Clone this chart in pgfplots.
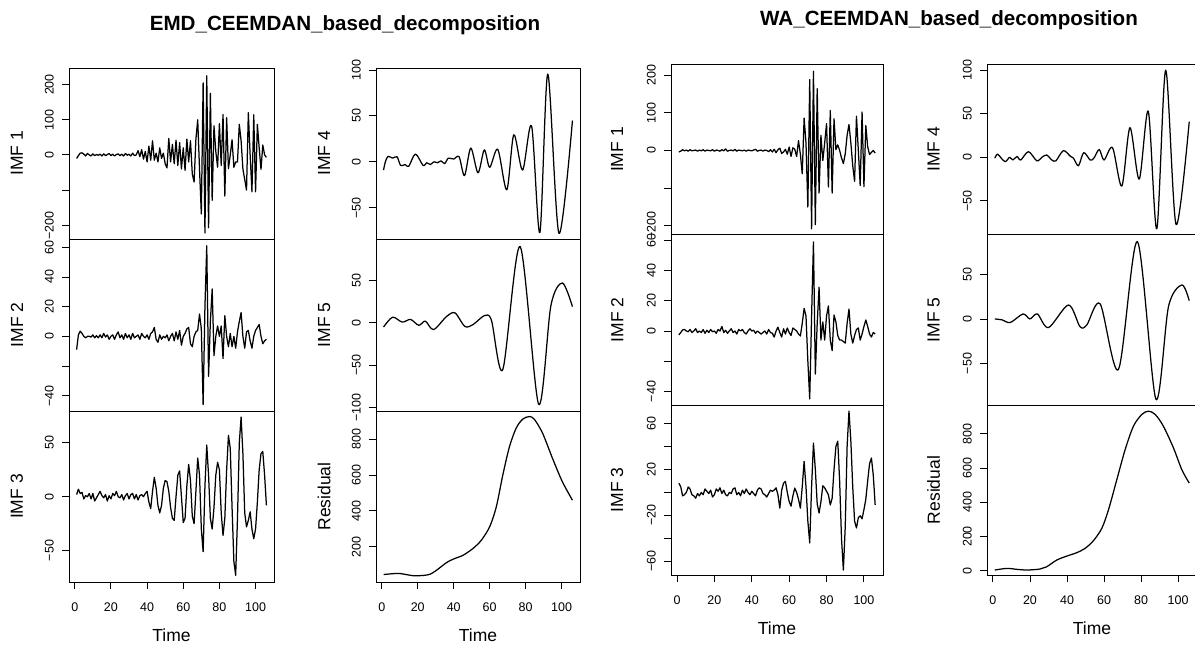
\documentclass[border=0pt]{standalone}
\usepackage{fontspec}
\setmainfont{Liberation Sans}
\usepackage{pgfplots}
\pgfplotsset{compat=1.18}
\newcommand\tickfont{\fontsize{12.5bp}{15bp}\selectfont}
\newcommand\labfont{\fontsize{17.5bp}{21bp}\selectfont}
\pgfplotsset{
  rline/.style={black, line width=1.25bp, mark=none, line join=round},
  rbase/.style={scale only axis, anchor=north west, xmin=-3.2, xmax=110.2,
    axis line style={line width=1bp},
    tick style={line width=0.9bp, black},
    tick align=outside, major tick length=7bp,
    xtick pos=bottom, ytick pos=left, scaled ticks=false,
    yticklabel style={rotate=90, anchor=south, inner sep=0pt, font=\tickfont},
    yticklabel shift=8bp,
    every axis y label/.style={at={(axis description cs:-0.254,0.5)}, rotate=90, anchor=center, font=\labfont},
    every axis x label/.style={at={(axis description cs:0.5,0)}, anchor=base, yshift=-59bp, font=\labfont}},
  rmid/.style={rbase, xtick=\empty},
  rbot/.style={rbase, xtick={0,20,40,60,80,100}, xticklabels={0,20,40,60,80,100},
    xticklabel style={font=\tickfont, anchor=north, inner sep=0pt}, xticklabel shift=14bp, xlabel={Time}},
}
\begin{document}
\begin{tikzpicture}
\useasboundingbox (0,0) rectangle (1195bp,-646bp);
\clip (0,0) rectangle (1195bp,-646bp);

\node[font=\bfseries\fontsize{20.6bp}{24bp}\selectfont] at (345bp,-25bp) {EMD\_CEEMDAN\_based\_decomposition};
\node[font=\bfseries\fontsize{20.6bp}{24bp}\selectfont] at (949bp,-20bp) {WA\_CEEMDAN\_based\_decomposition};

% ---- EMD column 1
\begin{axis}[rmid, at={(69bp,-68bp)}, width=205bp, height=171bp, ymin=-239, ymax=247,
  ytick={-200,-100,0,100,200}, yticklabels={−200,,0,100,200}, ylabel={IMF 1}]
\addplot[rline] coordinates {(1,-10)(2,-2)(3,5)(4,6)(5,2)(6,-3)(7,4)(8,0)(9,-3)(10,3)(11,-2)(12,1)(13,-1)(14,2)(15,-3)(16,3)(17,-2)(18,1)(19,4)(20,-2)(21,2)(22,-3)(23,1)(24,3)(25,-2)(26,2)(27,-3)(28,4)(29,-1)(30,2)(31,-3)(32,5)(33,-2)(34,0)(35,12)(36,-5)(37,15)(38,-12)(39,10)(40,-20)(41,25)(42,-15)(43,40)(44,-15)(45,5)(46,-20)(47,20)(48,-10)(49,5)(50,-25)(51,-37)(52,47)(53,-20)(54,30)(55,-25)(56,42)(57,-30)(58,35)(59,-40)(60,20)(61,-44)(62,45)(63,-20)(64,40)(65,-54)(66,-77)(67,45)(68,100)(69,-40)(70,-168)(71,205)(72,-222)(73,225)(74,-207)(75,175)(76,-129)(77,83)(78,10)(79,-35)(80,89)(81,-30)(82,115)(83,-117)(84,106)(85,-39)(86,0)(87,43)(88,-35)(89,-20)(90,-20)(91,87)(92,40)(93,-40)(94,-70)(95,-100)(96,120)(97,0)(98,-105)(99,114)(100,-105)(101,87)(102,20)(103,-41)(104,28)(105,0)(106,-7)};
\end{axis}

\begin{axis}[rmid, at={(69bp,-239bp)}, width=205bp, height=172bp, ymin=-50.3, ymax=65.6,
  ytick={-40,-20,0,20,40,60}, yticklabels={−40,,0,20,40,60}, ylabel={IMF 2}]
\addplot[rline] coordinates {(1,-9)(2,1)(3,3.5)(4,2)(5,0)(6,-1)(7,0)(8,0)(9,-0.5)(10,1)(11,-1)(12,0.5)(13,-1)(14,1)(15,-1)(16,2)(17,-0.5)(18,1)(19,-2)(20,0)(21,1)(22,-2)(23,1)(24,3)(25,-1)(26,1)(27,-2)(28,2)(29,-1)(30,1)(31,-2)(32,2)(33,-1)(34,0)(35,1)(36,-2)(37,2)(38,0)(39,-1)(40,1)(41,-2)(42,2)(43,3)(44,6)(45,-2)(46,-4)(47,1)(48,-2)(49,0)(50,-1)(51,1)(52,-3)(53,0)(54,2)(55,-3)(56,3)(57,-2)(58,4)(59,-6)(60,0)(61,2)(62,5)(63,6)(64,-5)(65,-7)(66,0)(67,3)(68,4)(69,15)(70,5)(71,-46)(72,20)(73,61)(74,-27)(75,10)(76,32)(77,-13)(78,0)(79,7)(80,0)(81,7)(82,-15)(83,14)(84,0)(85,-7)(86,2)(87,-7)(88,0)(89,-8)(90,3)(91,10)(92,16)(93,0)(94,-8)(95,3)(96,4)(97,-3)(98,-8)(99,0)(100,4)(101,6)(102,8)(103,0)(104,-5)(105,-3)(106,-2)};
\end{axis}

\begin{axis}[rbot, at={(69bp,-411bp)}, width=205bp, height=171bp, ymin=-79.2, ymax=79.6,
  ytick={-50,0,50}, yticklabels={−50,0,50}, ylabel={IMF 3}]
\addplot[rline] coordinates {(1,2)(2,7)(3,3)(4,4)(5,-2)(6,1)(7,0)(8,3)(9,-2)(10,3)(11,-4)(12,-1)(13,2)(14,5)(15,1)(16,-1)(17,2)(18,-4)(19,1)(20,-2)(21,3)(22,1)(23,5)(24,0)(25,-1)(26,2)(27,-3)(28,1)(29,3)(30,-2)(31,2)(32,3)(33,-2)(34,2)(35,-3)(36,1)(37,2)(38,0)(39,3)(40,5)(41,-5)(42,-11)(43,5)(44,18)(45,8)(46,-8)(47,-15)(48,-8)(49,8)(50,15)(51,14)(52,5)(53,-10)(54,-20)(55,-22)(56,0)(57,20)(58,24)(59,0)(60,-24)(61,-20)(62,10)(63,30)(64,15)(65,-18)(66,-25)(67,5)(68,36)(69,20)(70,-30)(71,-51)(72,10)(73,48)(74,20)(75,-20)(76,-30)(77,-10)(78,20)(79,32)(80,25)(81,-15)(82,-36)(83,-20)(84,25)(85,57)(86,45)(87,-10)(88,-60)(89,-73)(90,-20)(91,50)(92,74)(93,40)(94,-15)(95,-28)(96,-22)(97,-14)(98,-30)(99,-39)(100,-30)(101,-5)(102,25)(103,40)(104,42)(105,20)(106,-8)};
\end{axis}

% ---- EMD column 2
\begin{axis}[rmid, at={(376bp,-68bp)}, width=204bp, height=171bp, ymin=-84.1, ymax=102.2,
  ytick={-50,0,50,100}, yticklabels={−50,0,50,100}, ylabel={IMF 4}]
\addplot[rline, smooth] coordinates {(1,-9)(2,0)(3.5,6)(6,4)(8.5,5.5)(10.5,-4)(13,-3)(15,-5)(18.7,8.5)(23,-4)(25,-1)(27,-3)(29,0)(31,-1)(33,1)(35,-2)(37,4)(40,3)(43,5.5)(46,-15)(49.5,15)(53.5,-12)(57,13)(60,-6)(64.5,13.6)(69.5,-30.5)(73.4,29.4)(78.3,-9)(83.3,39)(87.9,-77)(92.3,95.6)(98.5,-78)(106,45)};
\end{axis}

\begin{axis}[rmid, at={(376bp,-239bp)}, width=204bp, height=172bp, ymin=-104, ymax=98.8,
  ytick={-100,-50,0,50}, yticklabels={−100,−50,0,50}, ylabel={IMF 5}]
\addplot[rline, smooth] coordinates {(1,-5)(6,6.6)(11.4,0.8)(16,4)(20.6,-3)(24.2,2)(28.8,-8)(36,7.4)(40.7,11.7)(46.2,-4.3)(50.8,-2)(57.2,8.6)(61,2.7)(67.3,-55)(76.9,90)(87.2,-96)(94,20)(100.4,47)(106,19)};
\end{axis}

\begin{axis}[rbot, at={(376bp,-411bp)}, width=204bp, height=171bp, ymin=3, ymax=958,
  ytick={200,400,600,800}, yticklabels={200,400,600,800}, ylabel={Residual}]
\addplot[rline, smooth] coordinates {(1,45)(8.6,51)(12.3,47)(17.8,38)(23.3,40)(27,47)(30.6,70)(36.1,112)(39.8,131)(45.3,153)(50.8,191)(55.4,237)(60,312)(63.7,424)(67.3,601)(71,759)(74.7,862)(78.3,912)(82,927)(84.8,912)(89.4,834)(94.9,694)(100.4,563)(106,460)};
\end{axis}

% ---- WA column 1
\begin{axis}[rmid, at={(671bp,-64.5bp)}, width=212bp, height=170bp, ymin=-223, ymax=228,
  ytick={-200,-100,0,100,200}, yticklabels={−200,,0,100,200}, ylabel={IMF 1}]
\addplot[rline] coordinates {(1,-4)(2,-2)(3,2)(4,-1)(5,1)(6,-2)(7,2)(8,-1)(9,0)(10,1)(11,-2)(12,1)(13,-1)(14,2)(15,-2)(16,1)(17,0)(18,-1)(19,2)(20,-2)(21,1)(22,0)(23,-2)(24,2)(25,-1)(26,4)(27,-2)(28,0)(29,1)(30,-1)(31,3)(32,-2)(33,1)(34,0)(35,-1)(36,1)(37,-2)(38,1)(39,0)(40,-1)(41,1)(42,3)(43,-2)(44,0)(45,1)(46,-2)(47,1)(48,0)(49,-3)(50,2)(51,-4)(52,3)(53,-6)(54,2)(55,6)(56,-8)(57,-4)(58,3)(59,-10)(60,9)(61,-16)(62,7)(63,3)(64,-16)(65,26)(66,-10)(67,-62)(68,86)(69,20)(70,-150)(71,188)(72,-208)(73,210)(74,-197)(75,164)(76,-113)(77,40)(78,-27)(79,20)(80,71)(81,-97)(82,106)(83,-113)(84,84)(85,2)(86,15)(87,0)(88,-20)(89,-35)(90,-9)(91,40)(92,69)(93,20)(94,-40)(95,-82)(96,91)(97,0)(98,-93)(99,102)(100,-96)(101,66)(102,10)(103,-11)(104,-5)(105,0)(106,-7)};
\end{axis}

\begin{axis}[rmid, at={(671bp,-234.5bp)}, width=212bp, height=170.5bp, ymin=-49, ymax=63.9,
  ytick={-40,-20,0,20,40,60}, yticklabels={−40,,0,20,40,60}, ylabel={IMF 2}]
\addplot[rline] coordinates {(1,-2.6)(2,-1)(3,0.7)(4,1)(5,0)(6,-0.5)(7,1)(8,-1)(9,0)(10,1.5)(11,-1)(12,0)(13,-1)(14,1)(15,-1.5)(16,0.5)(17,-1)(18,1)(19,-0.5)(20,0)(21,-1.5)(22,1)(23,0)(24,3)(25,-1)(26,0.5)(27,-1.5)(28,0)(29,1.5)(30,-1)(31,0)(32,-2)(33,1)(34,0)(35,1)(36,-1)(37,-2)(38,0)(39,1.5)(40,0)(41,0.5)(42,-1.5)(43,0)(44,-1)(45,-2)(46,-1)(47,0)(48,-2)(49,1)(50,-1)(51,-1.5)(52,-4)(53,0)(54,2.5)(55,-1)(56,-4)(57,1.5)(58,-2)(59,2)(60,-1)(61,-3)(62,2)(63,1)(64,0)(65,-2)(66,-3.3)(67,5)(68,15)(69,10)(70,-20)(71,-45)(72,10)(73,59)(74,-28.5)(75,5)(76,29)(77,-6)(78,6)(79,-6)(80,10)(81,16.6)(82,-6)(83,-13)(84,10.6)(85,6)(86,-3)(87,-6)(88,-6)(89,-7)(90,-8)(91,5)(92,14.6)(93,-2)(94,-8)(95,-3)(96,1)(97,2)(98,-6)(99,-2)(100,3)(101,7.3)(102,3)(103,-2)(104,-4)(105,-1)(106,-2)};
\end{axis}

\begin{axis}[rbot, at={(671bp,-405bp)}, width=212bp, height=170bp, ymin=-72, ymax=76.2,
  ytick={-60,-40,-20,0,20,40,60}, yticklabels={−60,,−20,,20,,60}, ylabel={IMF 3}]
\addplot[rline] coordinates {(1,8)(2,5)(3,-3)(4,-2)(5,0)(6,4.7)(7,3)(8,-2)(9,-3)(10,-5)(11,-1)(12,-3)(13,0)(14,-2)(15,3)(16,1)(17,-1)(18,2)(19,-4)(20,-2)(21,3)(22,1)(23,4)(24,-1)(25,2)(26,-2)(27,-3)(28,0)(29,-1)(30,3)(31,4)(32,-2)(33,0)(34,-3)(35,2)(36,-1)(37,3)(38,0)(39,-2)(40,1)(41,-1)(42,-3)(43,2)(44,4)(45,3)(46,-1)(47,-2)(48,-4)(49,-1)(50,2)(51,1)(52,2)(53,4)(54,-2)(55,-13.7)(56,2)(57,8)(58,9.6)(59,0)(60,-8)(61,-12)(62,-3)(63,3.8)(64,0)(65,-6)(66,-13.7)(67,5)(68,27)(69,5)(70,-25)(71,-44)(72,5)(73,43)(74,20)(75,-10)(76,-18)(77,-8)(78,5.8)(79,4)(80,1)(81,-2)(82,-11)(83,-5)(84,20)(85,40)(86,44.7)(87,10)(88,-40)(89,-67.7)(90,-30)(91,40)(92,71)(93,45)(94,5)(95,-25)(96,-31)(97,-22)(98,-20.4)(99,-23)(100,-15)(101,-6)(102,10)(103,25)(104,30)(105,15)(106,-10.8)};
\end{axis}

% ---- WA column 2
\begin{axis}[rmid, at={(987bp,-64.5bp)}, width=210bp, height=170bp, ymin=-88.5, ymax=106.5,
  ytick={-50,0,50,100}, yticklabels={−50,0,50,100}, ylabel={IMF 4}]
\addplot[rline, smooth] coordinates {(1,-1)(2.5,3.8)(4.5,-1)(6.7,-5)(9,0)(10.8,-3)(13,1)(15,-3)(19.2,6.5)(23.7,-4)(26.4,0)(29,2.7)(31.8,-3)(34,-4)(38,7.7)(41.7,1.5)(43.5,-1)(46.2,-9.6)(49,5.4)(52.5,-3)(54.5,-1)(57.4,9)(60,-3)(64.6,11)(69.6,-33)(74,34)(79,-25)(83.9,52.7)(88.5,-82)(93.3,100)(98.9,-77)(106,41)};
\end{axis}

\begin{axis}[rmid, at={(987bp,-234.5bp)}, width=210bp, height=170.5bp, ymin=-96.6, ymax=94.8,
  ytick={-50,0,50}, yticklabels={−50,0,50}, ylabel={IMF 5}]
\addplot[rline, smooth] coordinates {(1,0)(4.9,-1)(9.4,-4)(16.2,5.6)(20,0)(24,5.6)(30,-9.7)(40.8,15.7)(47,-8.6)(50.7,-6.7)(57.9,16.9)(67.8,-56.6)(78,86.9)(88,-90)(94.8,13.9)(102,38.2)(106,20.6)};
\end{axis}

\begin{axis}[rbot, at={(987bp,-405bp)}, width=210bp, height=170bp, ymin=-25, ymax=968,
  ytick={0,200,400,600,800}, yticklabels={0,200,400,600,800}, ylabel={Residual}]
\addplot[rline, smooth] coordinates {(1,4)(7.6,13.7)(13,8)(18.3,4)(25.5,10)(29,23)(34.5,62.6)(40,86)(45.3,105.6)(49.8,131)(54.3,176)(58.8,248)(62.4,356)(66.9,532)(71.4,708)(75.9,845)(80.4,913)(84,932)(87.6,913)(92,845)(97.5,717)(102,590)(106,512)};
\end{axis}
\end{tikzpicture}
\end{document}
